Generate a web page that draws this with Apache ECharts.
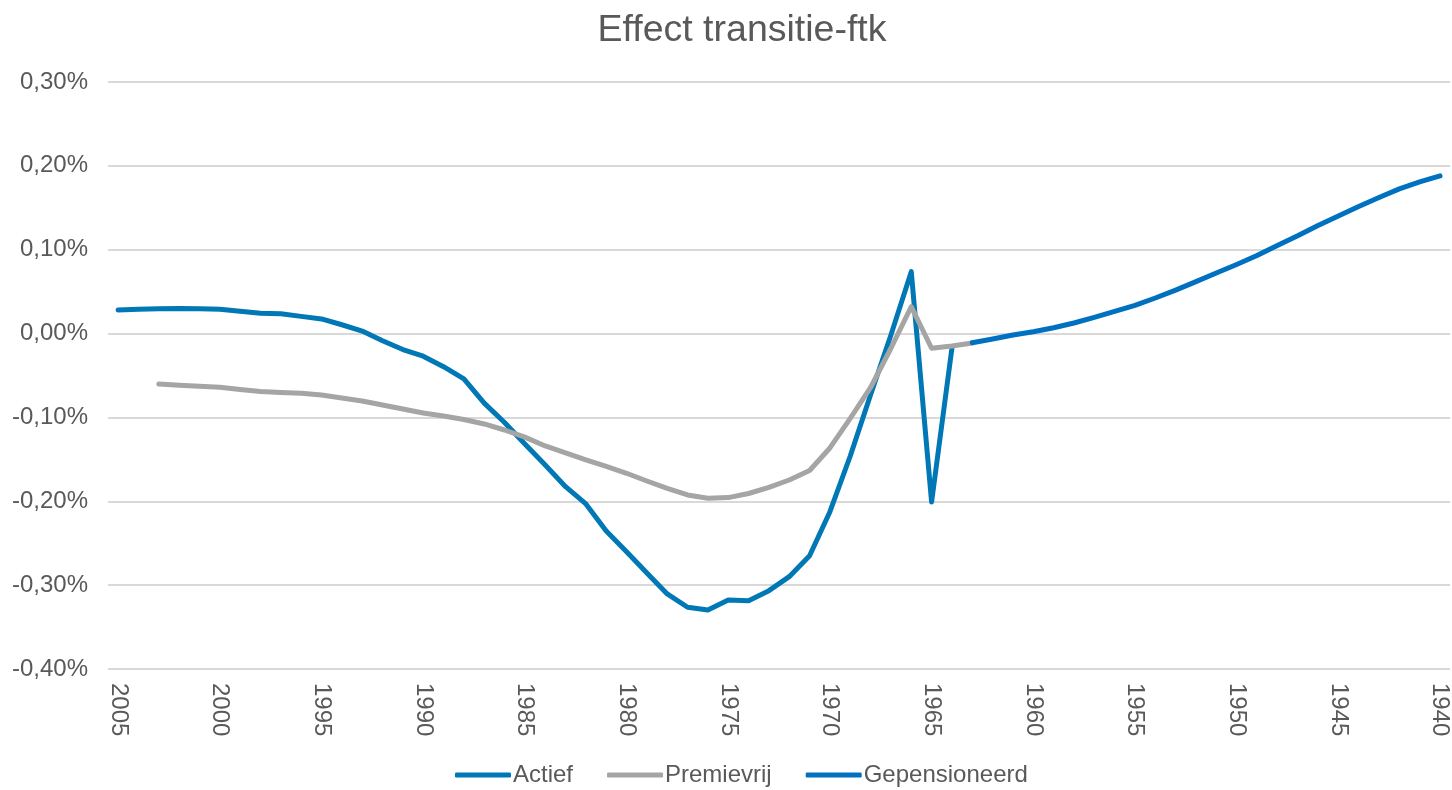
<!DOCTYPE html>
<html>
<head>
<meta charset="utf-8">
<script src="https://cdn.jsdelivr.net/npm/echarts@6/dist/echarts.min.js"></script>
<style>
html,body{margin:0;padding:0;background:#fff;}
#chart{width:1452px;height:790px;}
</style>
</head>
<body>
<div id="chart"></div>
<script>
// Categories: birth years, 2005 down to 1940
const years = [];
for (let y = 2005; y >= 1940; y--) years.push(String(y));

// Values in percent (e.g. 0.028 means 0,028%)
const actiefStart = 2005; // 2005 .. 1964
const actief = [0.028, 0.029, 0.0295, 0.0298, 0.0295, 0.029, 0.0265, 0.0242, 0.0236, 0.0205,
  0.0175, 0.0105, 0.003, -0.0085, -0.019, -0.027, -0.0395, -0.054, -0.083, -0.106,
  -0.1317, -0.1567, -0.1826, -0.2032, -0.2354, -0.2601, -0.2855, -0.3105, -0.3264, -0.3296,
  -0.3177, -0.3185, -0.3066, -0.2899, -0.2649, -0.2124, -0.146, -0.073, -0.0017, 0.0738,
  -0.2008, -0.0172];

const premievrijStart = 2003; // 2003 .. 1963
const premievrij = [-0.0601, -0.0615, -0.0628, -0.064, -0.0667, -0.069, -0.0702, -0.0712, -0.0732, -0.0768,
  -0.0804, -0.0851, -0.0899, -0.0947, -0.0983, -0.1024, -0.1078, -0.115, -0.1235, -0.134,
  -0.1424, -0.1507, -0.1585, -0.1666, -0.1758, -0.1845, -0.1925, -0.1964, -0.1956, -0.1907,
  -0.1835, -0.1746, -0.1633, -0.1364, -0.1012, -0.0643, -0.0175, 0.0321, -0.0175, -0.0148,
  -0.0112];

const gepensioneerdStart = 1963; // 1963 .. 1940
const gepensioneerd = [-0.0109, -0.0064, -0.0017, 0.0021, 0.0069, 0.0126, 0.0194, 0.0264, 0.0337, 0.0424,
  0.0519, 0.0619, 0.0723, 0.0824, 0.0931, 0.1051, 0.1166, 0.1288, 0.1402, 0.1516,
  0.1623, 0.1725, 0.1808, 0.188];

const seriesNames = ['Actief', 'Premievrij', 'Gepensioneerd'];

function pad(values, startYear) {
  return years.map(y => {
    const i = startYear - Number(y);
    return (i >= 0 && i < values.length) ? values[i] : null;
  });
}

const textColor = '#595959';
const font = '"Liberation Sans", Arial, sans-serif';

const chart = echarts.init(document.getElementById('chart'), null, {renderer: 'canvas'});
chart.setOption({
  animation: false,
  backgroundColor: '#ffffff',
  title: {
    text: 'Effect transitie-ftk',
    left: 737,
    textAlign: 'center',
    top: 7,
    textStyle: {color: textColor, fontSize: 37.5, fontWeight: 'normal', fontFamily: font}
  },
  legend: {
    data: seriesNames,
    left: 450,
    top: 758,
    itemWidth: 56,
    itemHeight: 5,
    itemGap: 34,
    icon: 'roundRect',
    textStyle: {color: textColor, fontSize: 24, fontFamily: font, padding: [0, 0, 0, -3]}
  },
  grid: {left: 108, right: 1, top: 82, bottom: 121, containLabel: false},
  xAxis: {
    type: 'category',
    data: years,
    boundaryGap: true,
    axisLine: {show: false},
    axisTick: {show: false},
    axisLabel: {
      interval: 4,
      rotate: -90,
      margin: 14,
      color: textColor,
      fontSize: 24,
      fontFamily: font
    },
    splitLine: {show: false}
  },
  yAxis: {
    type: 'value',
    min: -0.4,
    max: 0.3,
    interval: 0.1,
    axisLine: {show: false},
    axisTick: {show: false},
    axisLabel: {
      margin: 20,
      color: textColor,
      fontSize: 24,
      fontFamily: font,
      formatter: v => {
        let s = (Math.abs(v) < 1e-9 ? 0 : v).toFixed(2).replace('.', ',');
        return s + '%';
      }
    },
    splitLine: {lineStyle: {color: '#D9D9D9', width: 2}}
  },
  series: [
    {name: 'Actief', type: 'line', data: pad(actief, actiefStart), symbol: 'none',
     itemStyle: {color: '#0078B6'}, lineStyle: {color: '#0078B6', width: 5, cap: 'round', join: 'round'}},
    {name: 'Premievrij', type: 'line', data: pad(premievrij, premievrijStart), symbol: 'none',
     itemStyle: {color: '#A5A5A5'}, lineStyle: {color: '#A5A5A5', width: 5, cap: 'round', join: 'round'}},
    {name: 'Gepensioneerd', type: 'line', data: pad(gepensioneerd, gepensioneerdStart), symbol: 'none',
     itemStyle: {color: '#0070C0'}, lineStyle: {color: '#0070C0', width: 5, cap: 'round', join: 'round'}}
  ]
});
</script>
</body>
</html>
